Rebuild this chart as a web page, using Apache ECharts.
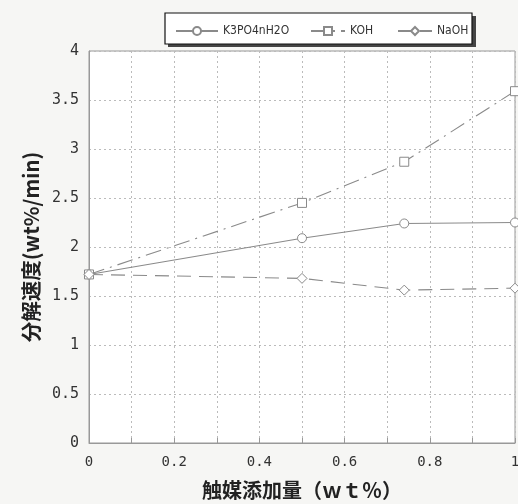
<!DOCTYPE html>
<html><head><meta charset="utf-8">
<script src="https://cdn.jsdelivr.net/npm/echarts@6/dist/echarts.min.js"></script>
<style>html,body{margin:0;padding:0;background:#f6f6f4;}#c{width:518px;height:504px;}</style>
</head><body><div id="c"></div>
<script>
const xValues = [0, 0.5, 0.74, 1];
const k3po4 = [1.72, 2.09, 2.24, 2.25];
const koh = [1.72, 2.45, 2.87, 3.59];
const naoh = [1.72, 1.68, 1.56, 1.58];
const seriesNames = ['K3PO4nH2O', 'KOH', 'NaOH'];
const xAxisName = '触媒添加量（ｗｔ％）';
const yAxisName = '分解速度(wt%/min)';

const grey = '#8a8a8a';
function pairs(ys){ return xValues.map((x,i)=>[x, ys[i]]); }
function fmt(v){ return String(Math.round(v*10)/10); }

const legendText = {fontFamily: 'DejaVu Sans Condensed', fontSize: 12, color: '#333'};
const legendLefts = [170, 305, 392];
const legendWidths = [42, 34, 34];

const chart = echarts.init(document.getElementById('c'));
chart.setOption({
  backgroundColor: '#f6f6f4',
  animation: false,
  graphic: [
    {type:'rect', shape:{x:168, y:16, width:308, height:31}, style:{fill:'#444'}, z:0},
    {type:'rect', shape:{x:165, y:13, width:307, height:31}, style:{fill:'#fff', stroke:'#111', lineWidth:1.2}, z:1}
  ],
  legend: seriesNames.map((n, i) => ({
    left: legendLefts[i], top: 20, itemWidth: legendWidths[i], itemHeight: 10, itemGap: 0, z: 5,
    textStyle: legendText, data: [n]
  })),
  grid: {left: 89, right: 3, top: 51, bottom: 61, outerBoundsMode: 'none', containLabel: false,
    show: true, backgroundColor: '#fff', borderColor: '#999', borderWidth: 1},
  xAxis: {
    type: 'value', min: 0, max: 1, interval: 0.1,
    name: xAxisName, nameLocation: 'middle', nameGap: 37,
    nameTextStyle: {fontFamily: 'Noto Sans CJK JP', fontSize: 20, fontWeight: 'bold', color: '#222'},
    axisLine: {lineStyle: {color: '#999'}},
    axisTick: {inside: true, length: 5, lineStyle: {color: '#999'}},
    axisLabel: {margin: 12, fontFamily: 'DejaVu Sans Mono', fontSize: 14, color: '#333',
      formatter: v => { const r = Math.round(v*10); return r % 2 === 0 ? fmt(v) : ''; }},
    splitLine: {show: true, lineStyle: {color: '#bbb', type: [2, 3]}}
  },
  yAxis: {
    type: 'value', min: 0, max: 4, interval: 0.5,
    name: yAxisName, nameLocation: 'middle', nameGap: 47, nameRotate: 90,
    nameTextStyle: {fontFamily: 'Noto Sans CJK JP', fontSize: 20.5, fontWeight: 'bold', color: '#222'},
    axisLine: {show: true, lineStyle: {color: '#999'}},
    axisTick: {show: false},
    axisLabel: {margin: 10, fontFamily: 'DejaVu Sans Mono', fontSize: 15, color: '#333', formatter: fmt},
    splitLine: {show: true, lineStyle: {color: '#bbb', type: [2, 3]}}
  },
  series: [
    {name: seriesNames[0], type: 'line', data: pairs(k3po4), symbol: 'circle', symbolSize: 9,
     lineStyle: {color: grey, width: 1.1, type: 'solid'},
     itemStyle: {color: '#fff', borderColor: grey, borderWidth: 1}},
    {name: seriesNames[1], type: 'line', data: pairs(koh), symbol: 'rect', symbolSize: 9,
     lineStyle: {color: grey, width: 1.1, type: [16, 6, 2, 6]},
     itemStyle: {color: '#fff', borderColor: grey, borderWidth: 1}},
    {name: seriesNames[2], type: 'line', data: pairs(naoh), symbol: 'diamond', symbolSize: 10,
     lineStyle: {color: grey, width: 1.1, type: [14, 8]},
     itemStyle: {color: '#fff', borderColor: grey, borderWidth: 1}}
  ]
});
</script></body></html>
